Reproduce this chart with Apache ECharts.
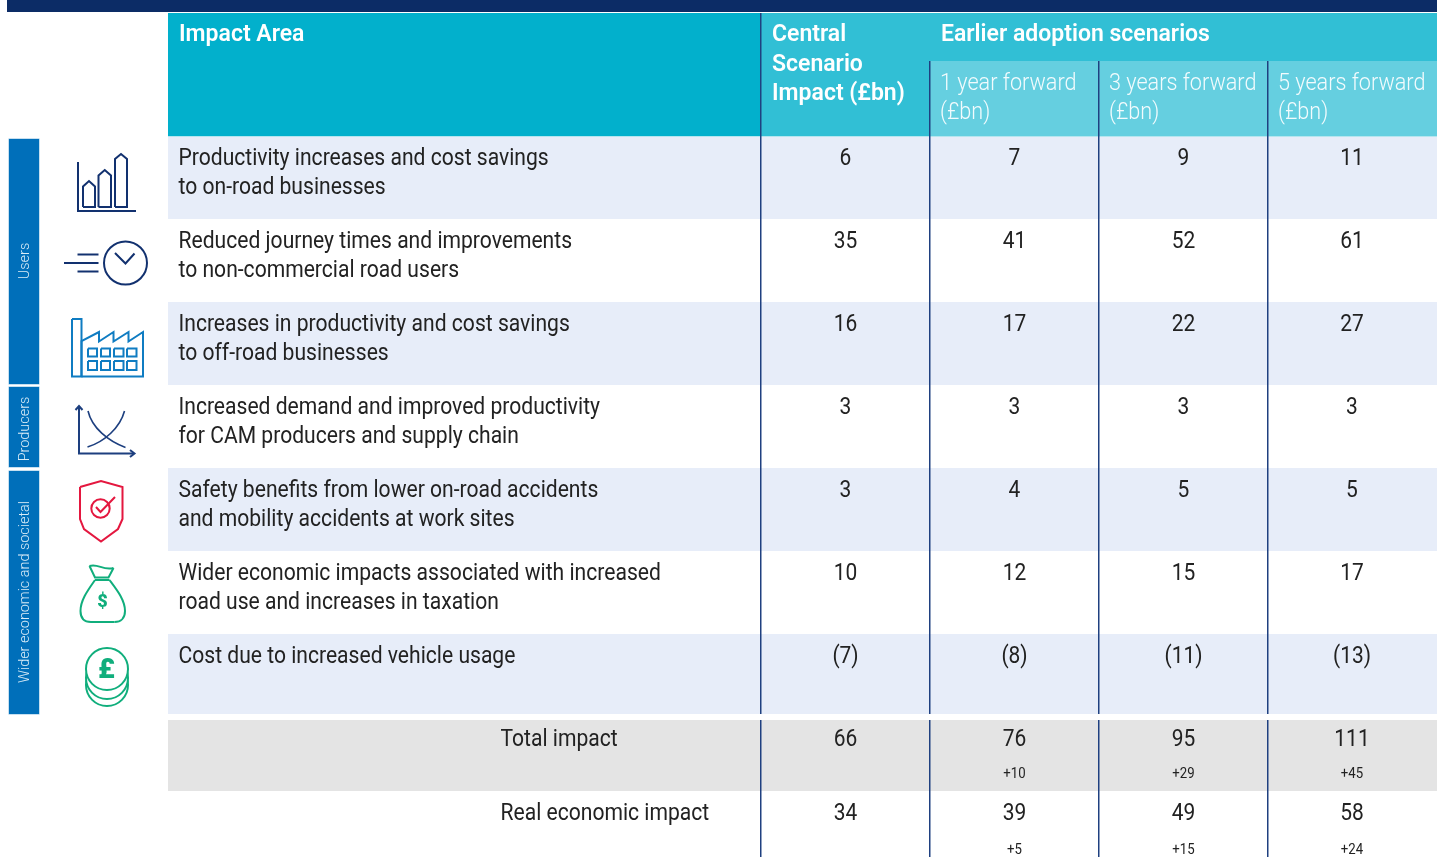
<!DOCTYPE html>
<html>
<head>
<meta charset="utf-8">
<style>html,body{margin:0;padding:0;background:#fff}#main{width:1443px;height:857px}</style>
<script src="https://cdn.jsdelivr.net/npm/echarts@6/dist/echarts.min.js"></script>
</head>
<body>
<div id="main"></div>
<script>
// table content
var impactAreas = [
	'Productivity increases and cost savings\nto on-road businesses',
	'Reduced journey times and improvements\nto non-commercial road users',
	'Increases in productivity and cost savings\nto off-road businesses',
	'Increased demand and improved productivity\nfor CAM producers and supply chain',
	'Safety benefits from lower on-road accidents\nand mobility accidents at work sites',
	'Wider economic impacts associated with increased\nroad use and increases in taxation',
	'Cost due to increased vehicle usage'
];
var centralScenario = [6, 35, 16, 3, 3, 10, -7];
var oneYearForward = [7, 41, 17, 3, 4, 12, -8];
var threeYearsForward = [9, 52, 22, 3, 5, 15, -11];
var fiveYearsForward = [11, 61, 27, 3, 5, 17, -13];

var summaryLabels = ['Total impact', 'Real economic impact'];
var summaryCentral = [66, 34];
var summaryOneYear = [76, 39];
var summaryThreeYears = [95, 49];
var summaryFiveYears = [111, 58];
var upliftOneYear = ['+10', '+5'];
var upliftThreeYears = ['+29', '+15'];
var upliftFiveYears = ['+45', '+24'];

var scenarioHeaders = ['1 year forward\n(£bn)', '3 years forward\n(£bn)', '5 years forward\n(£bn)'];
var sideGroups = ['Users', 'Producers', 'Wider economic and societal'];

// layout, in the pixels of the hidden axes
var FONT = 'Roboto';
var colEdges = [168, 761, 930, 1099, 1268, 1437];
var rowTops = [137, 220, 303, 386, 469, 552, 635];
var rowBottoms = [219, 302, 385, 468, 551, 634, 714];
var rowFills = ['#e7edf9', '#ffffff', '#e7edf9', '#ffffff', '#e7edf9', '#ffffff', '#e7edf9'];
var sideTops = [139, 387, 471];
var sideBottoms = [384, 467, 714];
var sideCentres = [261, 429, 592];

function fmt(v) {
	return v < 0 ? '(' + (-v) + ')' : String(v);
}

// every filled block of the table: x0, y0, x1, y1, colour
var blocks = [
	[7, 0, 1437, 12, '#0c2c66'],
	[168, 13, 760, 136, '#02b0cc'],
	[761, 13, 1437, 136, '#31bfd5'],
	[930, 61, 1437, 136, '#65cfe0'],
	[168, 136, 1437, 137, '#b5e6ef'],
	[168, 720, 1437, 791, '#e4e4e4']
];
rowTops.forEach(function (t, i) {
	blocks.push([168, t - (i ? 1 : 0), 1437, rowBottoms[i], rowFills[i]]);
});
sideTops.forEach(function (t, i) {
	blocks.push([8.5, t - 0.5, 39.5, sideBottoms[i] + 0.5, '#8dbfe2']);
	blocks.push([9, t, 39, sideBottoms[i], '#006fba']);
});

// column rules: x, y0, y1
var rules = [
	[colEdges[1], 13, 714], [colEdges[2], 61, 714], [colEdges[3], 61, 714], [colEdges[4], 61, 714],
	[colEdges[1], 720, 857], [colEdges[2], 720, 857], [colEdges[3], 720, 857], [colEdges[4], 720, 857]
];

// every text of the table
var texts = [];
function addText(x, y, text, kind) {
	texts.push({x: x, y: y, text: text, kind: kind});
}
var styles = {
	head: {fontSize: 23, fontWeight: 600, fill: '#fff', lineHeight: 29.5, scaleX: 1},
	sub: {fontSize: 23, fontWeight: 300, fill: '#f2fbfd', lineHeight: 29, scaleX: 0.94},
	area: {fontSize: 23, fontWeight: 400, fill: '#222', lineHeight: 29, scaleX: 0.917},
	num: {fontSize: 23, fontWeight: 400, fill: '#222', lineHeight: 29, scaleX: 0.91, align: 'center'},
	small: {fontSize: 15, fontWeight: 400, fill: '#222', lineHeight: 18, scaleX: 0.88, align: 'center'}
};

addText(179, 20.5, 'Impact Area', 'head');
addText(772, 20.5, 'Central\nScenario\nImpact (£bn)', 'head');
addText(941, 20.5, 'Earlier adoption scenarios', 'head');
scenarioHeaders.forEach(function (h, i) {
	addText(colEdges[i + 2] + 10, 69.5, h, 'sub');
});
var colCentres = [845.5, 1014.5, 1183.5, 1352];
[centralScenario, oneYearForward, threeYearsForward, fiveYearsForward].forEach(function (col, c) {
	col.forEach(function (v, r) {
		addText(colCentres[c], 144.5 + 83 * r, fmt(v), 'num');
	});
});
impactAreas.forEach(function (a, r) {
	addText(178.5, 144.5 + 83 * r, a, 'area');
});
var summaryY = [725.5, 799.5], upliftY = [765, 841];
summaryLabels.forEach(function (s, r) {
	addText(500.5, summaryY[r], s, 'area');
});
[summaryCentral, summaryOneYear, summaryThreeYears, summaryFiveYears].forEach(function (col, c) {
	col.forEach(function (v, r) {
		addText(colCentres[c], summaryY[r], fmt(v), 'num');
	});
});
[upliftOneYear, upliftThreeYears, upliftFiveYears].forEach(function (col, c) {
	col.forEach(function (v, r) {
		addText(colCentres[c + 1], upliftY[r], v, 'small');
	});
});

// pictograms next to the rows
var NAVY = '#12316f', BLUE = '#0f7cc2', SLATE = '#1d3f7f', RED = '#e4173f', GREEN = '#10ae7c';
function pl(points, stroke, w) {
	return {type: 'polyline', shape: {points: points}, style: {stroke: stroke, fill: null, lineWidth: w || 2}};
}
function circ(cx, cy, r, stroke, w) {
	return {type: 'circle', shape: {cx: cx, cy: cy, r: r}, style: {stroke: stroke, fill: '#fff', lineWidth: w || 2}};
}
function curve(x1, y1, cx1, cy1, cx2, cy2, x2, y2, stroke, w) {
	return {type: 'bezierCurve', shape: {x1: x1, y1: y1, cpx1: cx1, cpy1: cy1, cpx2: cx2, cpy2: cy2, x2: x2, y2: y2},
		style: {stroke: stroke, fill: null, lineWidth: w || 2}};
}
function glyph(x, y, text, size, color) {
	return {type: 'text', x: x, y: y, style: {text: text, fill: color, fontFamily: FONT, fontWeight: 900, fontSize: size, align: 'center', verticalAlign: 'middle'}};
}
function bar(x0, x1, shoulder, peak) {
	return pl([[x0, 207], [x0, shoulder], [(x0 + x1) / 2, peak], [x1, shoulder], [x1, 207], [x0, 207]], NAVY);
}
function win(x0, x1, y0, y1) {
	return pl([[x0, y0], [x1, y0], [x1, y1], [x0, y1], [x0, y0]], BLUE);
}
var iconParts = [
	// bars
	pl([[78, 162], [78, 211], [136, 211]], NAVY),
	bar(83, 95, 186.5, 181), bar(98.5, 111, 175.5, 170), bar(115, 127, 159, 154),
	// clock
	circ(125.5, 263, 21.5, NAVY),
	pl([[115, 253], [125.5, 263.5], [134.5, 253.5]], NAVY),
	pl([[77.5, 254.5], [98.5, 254.5]], NAVY), pl([[64, 263], [98.5, 263]], NAVY), pl([[77.5, 271.5], [98.5, 271.5]], NAVY),
	// factory
	win(72, 81.5, 319, 376.5),
	pl([[81.5, 376.5], [81.5, 341], [99, 332], [99, 341.5], [113.5, 332], [113.5, 341.5], [128.5, 332], [128.5, 341.5], [143, 332], [143, 376.5], [81.5, 376.5]], BLUE),
	win(88, 97, 348.5, 356.5), win(101, 110, 348.5, 356.5), win(114, 123.5, 348.5, 356.5), win(127, 136.5, 348.5, 356.5),
	win(88, 97, 361, 370), win(101, 110, 361, 370), win(114, 123.5, 361, 370), win(127, 136.5, 361, 370),
	// supply and demand
	pl([[79, 406], [79, 453.5], [134, 453.5]], SLATE),
	pl([[75.5, 410], [79, 406], [82.5, 410]], SLATE), pl([[130, 450], [134.5, 453.5], [130, 457]], SLATE),
	curve(88, 411, 92, 428, 108, 441, 125.5, 447.5, SLATE, 1.6),
	curve(87.5, 447, 104, 442, 120, 428, 124.5, 411, SLATE, 1.6),
	// shield
	pl([[80, 487], [101, 481], [122.5, 487], [122.5, 519], [118, 529], [101, 541.5], [84, 529], [80, 519], [80, 487]], RED),
	{type: 'circle', shape: {cx: 100.5, cy: 508.5, r: 9.2}, style: {stroke: RED, fill: null, lineWidth: 2}},
	pl([[96, 507], [100.5, 512], [115, 497]], RED),
	// money bag
	pl([[89.5, 566], [95, 577.5], [108.5, 577.5], [113.5, 568]], GREEN),
	curve(89.5, 566, 98, 563, 103, 571, 113.5, 568, GREEN),
	pl([[95, 580], [109.5, 580]], GREEN),
	curve(95, 580, 88, 590, 80.5, 600, 80.5, 611, GREEN),
	curve(80.5, 611, 80.5, 618, 84, 622, 91, 622, GREEN),
	pl([[91, 622], [114.5, 622]], GREEN),
	curve(114.5, 622, 121, 622, 125, 618, 125, 611, GREEN),
	curve(125, 611, 125, 600, 117, 590, 109.5, 580, GREEN),
	glyph(102.5, 602, '$', 18, GREEN),
	// coins
	circ(107, 685, 21, GREEN), circ(107, 678, 21, GREEN), circ(107, 669, 21, GREEN),
	glyph(106.5, 671, '£', 28, GREEN)
];

var main = document.getElementById('main');
var myChart = echarts.init(main);

var option = {
	animation: false,
	backgroundColor: '#fff',
	grid: {left: 0, right: 0, top: 0, bottom: 0},
	xAxis: {type: 'value', min: 0, max: 1443, show: false},
	yAxis: {type: 'value', min: 0, max: 857, inverse: true, show: false},
	series: [{
		name: 'blocks',
		type: 'custom',
		silent: true,
		z: 1,
		data: blocks.map(function (b) { return b.slice(0, 4); }),
		renderItem: function (params, api) {
			var a = api.coord([api.value(0), api.value(1)]);
			var b = api.coord([api.value(2), api.value(3)]);
			return {type: 'rect', shape: {x: a[0], y: a[1], width: b[0] - a[0], height: b[1] - a[1]},
				style: {fill: blocks[params.dataIndex][4]}};
		}
	}, {
		name: 'rules',
		type: 'custom',
		silent: true,
		z: 2,
		data: rules,
		renderItem: function (params, api) {
			var a = api.coord([api.value(0), api.value(1)]);
			var b = api.coord([api.value(0), api.value(2)]);
			return {type: 'rect', shape: {x: a[0] - 1, y: a[1], width: 1.5, height: b[1] - a[1]}, style: {fill: '#1f4080'}};
		}
	}, {
		name: 'side groups',
		type: 'custom',
		silent: true,
		z: 3,
		data: sideGroups.map(function (s, i) { return [25, sideCentres[i]]; }),
		renderItem: function (params, api) {
			var p = api.coord([api.value(0), api.value(1)]);
			return {type: 'text', x: p[0], y: p[1], rotation: Math.PI / 2, scaleX: 0.96,
				style: {text: sideGroups[params.dataIndex], fill: '#d9ecf7', fontFamily: FONT, fontWeight: 300, fontSize: 15, align: 'center', verticalAlign: 'middle'}};
		}
	}, {
		name: 'icons',
		type: 'custom',
		silent: true,
		z: 3,
		data: [[0, 0]],
		renderItem: function (params, api) {
			var p = api.coord([api.value(0), api.value(1)]);
			return {type: 'group', x: p[0], y: p[1], children: iconParts};
		}
	}, {
		name: 'texts',
		type: 'custom',
		silent: true,
		z: 4,
		data: texts.map(function (t) { return [t.x, t.y]; }),
		renderItem: function (params, api) {
			var t = texts[params.dataIndex], s = styles[t.kind];
			var p = api.coord([api.value(0), api.value(1)]);
			return {type: 'text', x: p[0], y: p[1], scaleX: s.scaleX,
				style: {text: t.text, fill: s.fill, fontFamily: FONT, fontWeight: s.fontWeight, fontSize: s.fontSize,
					lineHeight: s.lineHeight, align: s.align || 'left', verticalAlign: 'top'}};
		}
	}]
};
myChart.setOption(option);
</script>
</body>
</html>
